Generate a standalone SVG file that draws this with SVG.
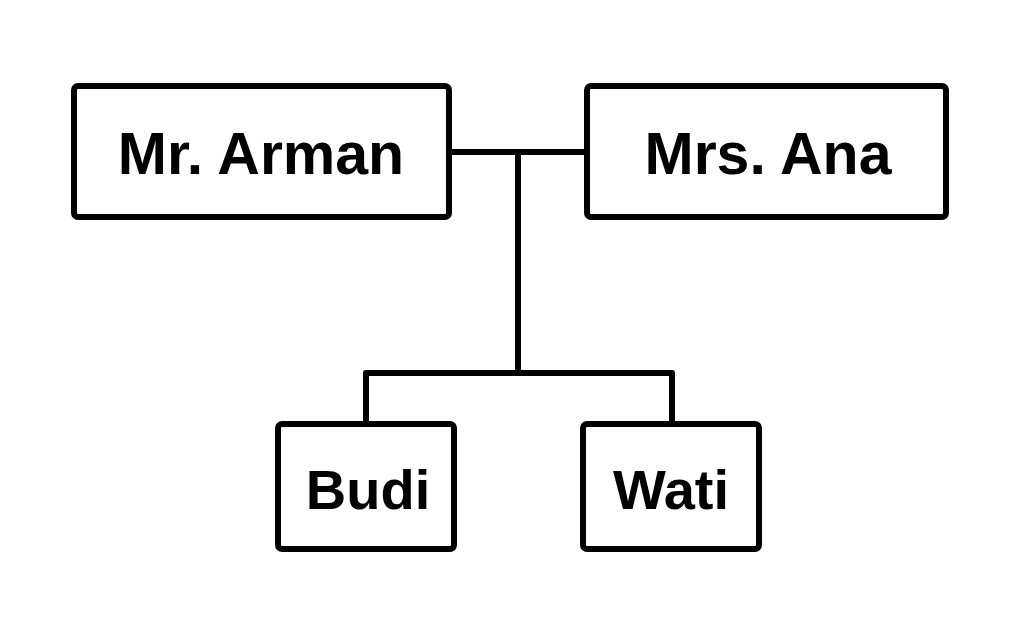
<svg xmlns="http://www.w3.org/2000/svg" width="1024" height="638" viewBox="0 0 1024 638">
<style>
.box{fill:#fff;stroke:#000;stroke-width:6;}
.lbl{font-family:"Liberation Sans",Arial,sans-serif;font-weight:bold;fill:#000;text-anchor:middle;}
.big{font-size:59px;}
.small{font-size:56px;}
.conn{fill:none;stroke:#000;stroke-width:6;stroke-linejoin:round;}
</style>
<rect width="1024" height="638" fill="#fff"/>
<g id="connectors">
<line class="conn" x1="449" y1="152" x2="587" y2="152"/>
<line class="conn" x1="518" y1="152" x2="518" y2="373"/>
<polyline class="conn" points="366,424 366,373 672,373 672,424"/>
</g>
<g id="mr-arman">
<rect class="box" x="74" y="86" width="375" height="131" rx="4"/>
<text class="lbl big" x="261" y="174">Mr. Arman</text>
</g>
<g id="mrs-ana">
<rect class="box" x="587" y="86" width="359" height="131" rx="4"/>
<text class="lbl big" x="768" y="174">Mrs. Ana</text>
</g>
<g id="budi">
<rect class="box" x="278" y="424" width="176" height="125" rx="4"/>
<text class="lbl small" x="368" y="509">Budi</text>
</g>
<g id="wati">
<rect class="box" x="583" y="424" width="176" height="125" rx="4"/>
<text class="lbl small" x="671" y="509">Wati</text>
</g>
</svg>
